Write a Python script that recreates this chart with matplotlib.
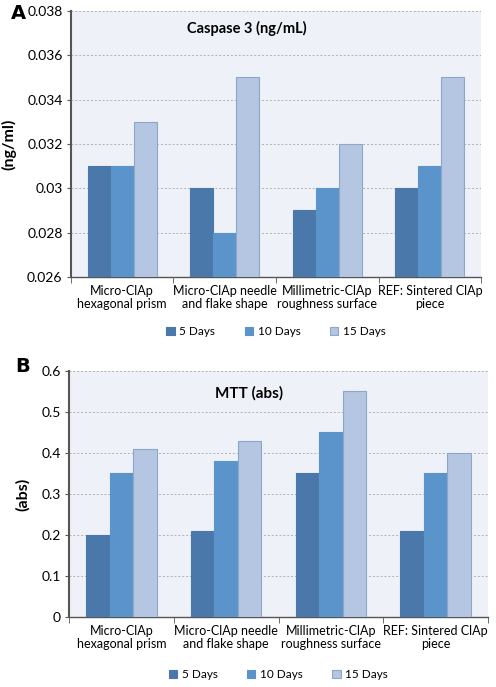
import numpy as np
import matplotlib.pyplot as plt

plt.rcParams['font.family'] = ['Lato', 'DejaVu Sans']

categories = ["Micro-ClAp\nhexagonal prism", "Micro-ClAp needle\nand flake shape",
              "Millimetric-ClAp\nroughness surface", "REF: Sintered ClAp\npiece"]
series = ["5 Days", "10 Days", "15 Days"]

caspase_5 = [0.031, 0.030, 0.029, 0.030]
caspase_10 = [0.031, 0.028, 0.030, 0.031]
caspase_15 = [0.033, 0.035, 0.032, 0.035]

mtt_5 = [0.20, 0.21, 0.35, 0.21]
mtt_10 = [0.35, 0.38, 0.45, 0.35]
mtt_15 = [0.41, 0.43, 0.55, 0.40]

colors = ["#4a78ab", "#5b93cb", "#b4c6e1"]
edges = ["#4a78ab", "#5b93cb", "#8ea6c8"]

fig = plt.figure(figsize=(4.96, 6.87), dpi=100)
ax_a = fig.add_axes([0.143, 0.597, 0.827, 0.387])
ax_b = fig.add_axes([0.139, 0.102, 0.845, 0.358])


def draw(ax, data, ymin, ymax, step, title, ylabel, title_y, leg_y, title_size, fmt):
    x = np.arange(len(categories))
    w = 0.225
    for i, vals in enumerate(data):
        ax.bar(x + (i - 1) * w, np.array(vals) - ymin, w, bottom=ymin,
               color=colors[i], edgecolor=edges[i], linewidth=0.8,
               label=series[i], zorder=3)
    ax.set_facecolor("#eef1f8")
    ax.set_xlim(-0.5, len(categories) - 0.5)
    ax.set_ylim(ymin, ymax)
    ticks = np.arange(ymin, ymax + step / 2, step)
    ax.set_yticks(ticks)
    ax.set_yticklabels([fmt(t) for t in ticks], fontsize=10)
    ax.yaxis.grid(True, linestyle=(0, (2, 2)), color="#b0b0b0", linewidth=0.7, zorder=0)
    ax.set_xticks(x)
    ax.set_xticklabels(categories, fontsize=9, linespacing=1.1)
    ax.tick_params(axis="x", length=0, pad=6)
    ax.set_xticks(np.arange(-0.5, len(categories)), minor=True)
    ax.tick_params(axis="x", which="minor", length=4, color="#555555")
    ax.tick_params(axis="y", length=3, color="#555555", pad=3)
    for s in ["top", "right"]:
        ax.spines[s].set_visible(False)
    ax.spines["left"].set_color("#555555")
    ax.spines["left"].set_linewidth(1.5)
    ax.spines["bottom"].set_color("#555555")
    ax.spines["bottom"].set_linewidth(1.0)
    ax.text(0.43, title_y, title, transform=ax.transAxes, ha="center", va="center",
            fontsize=title_size, fontweight="bold")
    ax.set_ylabel(ylabel, fontsize=11.5, fontweight="bold", labelpad=8)
    ax.legend(loc="center", bbox_to_anchor=(0.5, leg_y), ncol=3, frameon=False,
              fontsize=8.5, handlelength=0.7, handleheight=0.7, columnspacing=2.5,
              handletextpad=0.4)


draw(ax_a, [caspase_5, caspase_10, caspase_15], 0.026, 0.038, 0.002,
     "Caspase 3 (ng/mL)", "(ng/ml)", 0.935, -0.205, 10.5,
     lambda t: ("%.3f" % t).rstrip("0"))
draw(ax_b, [mtt_5, mtt_10, mtt_15], 0.0, 0.6, 0.1,
     "MTT (abs)", "(abs)", 0.91, -0.235, 11,
     lambda t: "0" if t == 0 else ("%.1f" % t))

fig.text(0.022, 0.98, "A", fontsize=14, fontweight="bold", family="DejaVu Sans",
         ha="left", va="center")
fig.text(0.03, 0.467, "B", fontsize=14, fontweight="bold", family="DejaVu Sans",
         ha="left", va="center")

plt.savefig("out.png", dpi=100)
